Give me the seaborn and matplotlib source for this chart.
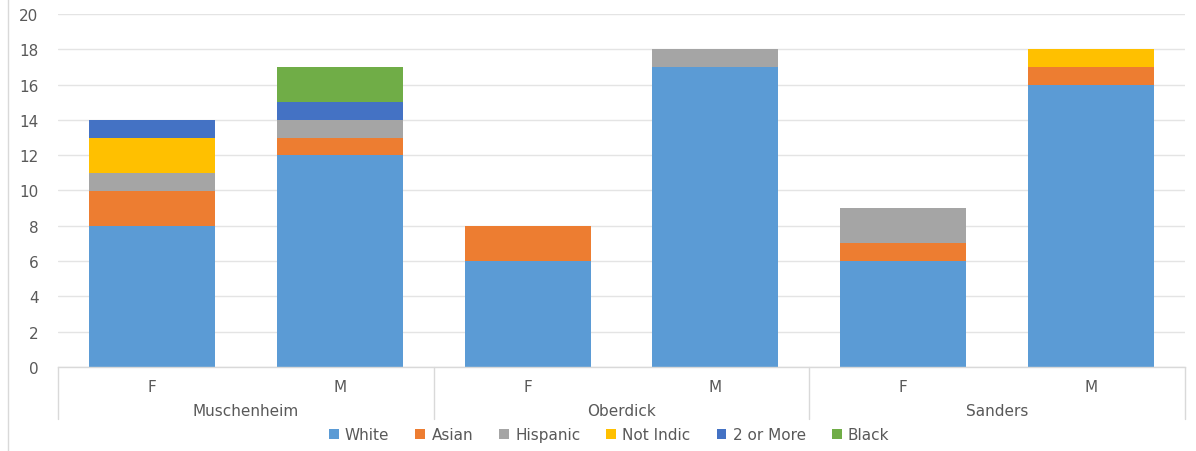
import matplotlib
matplotlib.use("Agg")
import matplotlib.pyplot as plt
import seaborn as sns
import pandas as pd
import numpy as np
from matplotlib.lines import Line2D
from matplotlib.patches import Patch

# Data
groups = ["Muschenheim", "Muschenheim", "Oberdick", "Oberdick", "Sanders", "Sanders"]
genders = ["F", "M", "F", "M", "F", "M"]
series_names = ["White", "Asian", "Hispanic", "Not Indic", "2 or More", "Black"]
white = [8, 12, 6, 17, 6, 16]
asian = [2, 1, 2, 0, 1, 1]
hispanic = [1, 1, 0, 1, 2, 0]
not_indic = [2, 0, 0, 0, 0, 1]
two_or_more = [1, 1, 0, 0, 0, 0]
black = [0, 2, 0, 0, 0, 0]
group_names = ["Muschenheim", "Oberdick", "Sanders"]
yticks = [0, 2, 4, 6, 8, 10, 12, 14, 16, 18, 20]

colors = ["#5B9BD5", "#ED7D31", "#A5A5A5", "#FFC000", "#4472C4", "#70AD47"]

sns.set_theme(style="white")
plt.rcParams['font.family'] = ['DejaVu Sans']

keys = [f"{g}|{s}" for g, s in zip(groups, genders)]
values = [white, asian, hispanic, not_indic, two_or_more, black]

fig = plt.figure(figsize=(11.96, 4.52), dpi=100)
ax = fig.add_axes([58/1196, 1-368/452, (1185-58)/1196, (368-15)/452])

bottom = np.zeros(len(keys))
for name, vals, col in zip(series_names, values, colors):
    df = pd.DataFrame({"key": keys, "val": vals})
    sns.barplot(data=df, x="key", y="val", order=keys, color=col, bottom=bottom,
                width=0.67, ax=ax, saturation=1, linewidth=0, errorbar=None)
    bottom = bottom + np.array(vals)

FS = 11
TC = "#595959"
ax.set_ylim(0, 20)
ax.set_xlim(-0.5, 5.5)
ax.set_yticks(yticks)
ax.set_yticklabels([str(t) for t in yticks])
ax.set_xticks(range(len(keys)))
ax.set_xticklabels(genders)
ax.set_xlabel("")
ax.set_ylabel("")
ax.tick_params(axis="both", length=0, labelsize=FS, labelcolor=TC)
ax.tick_params(axis="y", pad=14)
ax.tick_params(axis="x", pad=9)
ax.yaxis.grid(True, color="#E4E4E4", linewidth=1)
ax.set_axisbelow(True)
for s in ["top", "right", "left"]:
    ax.spines[s].set_visible(False)
ax.spines["bottom"].set_color("#D9D9D9")
ax.spines["bottom"].set_linewidth(1)

# group separators and labels
sep_h = (420-368)/353
for xv in [-0.5, 1.5, 3.5, 5.5]:
    ax.plot([xv, xv], [0, -sep_h], transform=ax.get_xaxis_transform(),
            color="#D9D9D9", linewidth=1, clip_on=False)
for i, gname in enumerate(group_names):
    ax.text(2*i + 0.5, -(411-368)/353, gname, transform=ax.get_xaxis_transform(),
            ha="center", va="center", fontsize=FS, color=TC)

# left frame line
fig.add_artist(Line2D([8/1196, 8/1196], [0, 1], color="#D9D9D9", linewidth=1))

handles = [Patch(facecolor=c, edgecolor="none") for c in colors]
fig.legend(handles, series_names, loc="center", bbox_to_anchor=(609/1196, 1-436/452),
           ncol=6, frameon=False, fontsize=FS, labelcolor=TC,
           handlelength=0.65, handleheight=0.65, handletextpad=0.4, columnspacing=1.7)

fig.savefig("out.png", dpi=100)
